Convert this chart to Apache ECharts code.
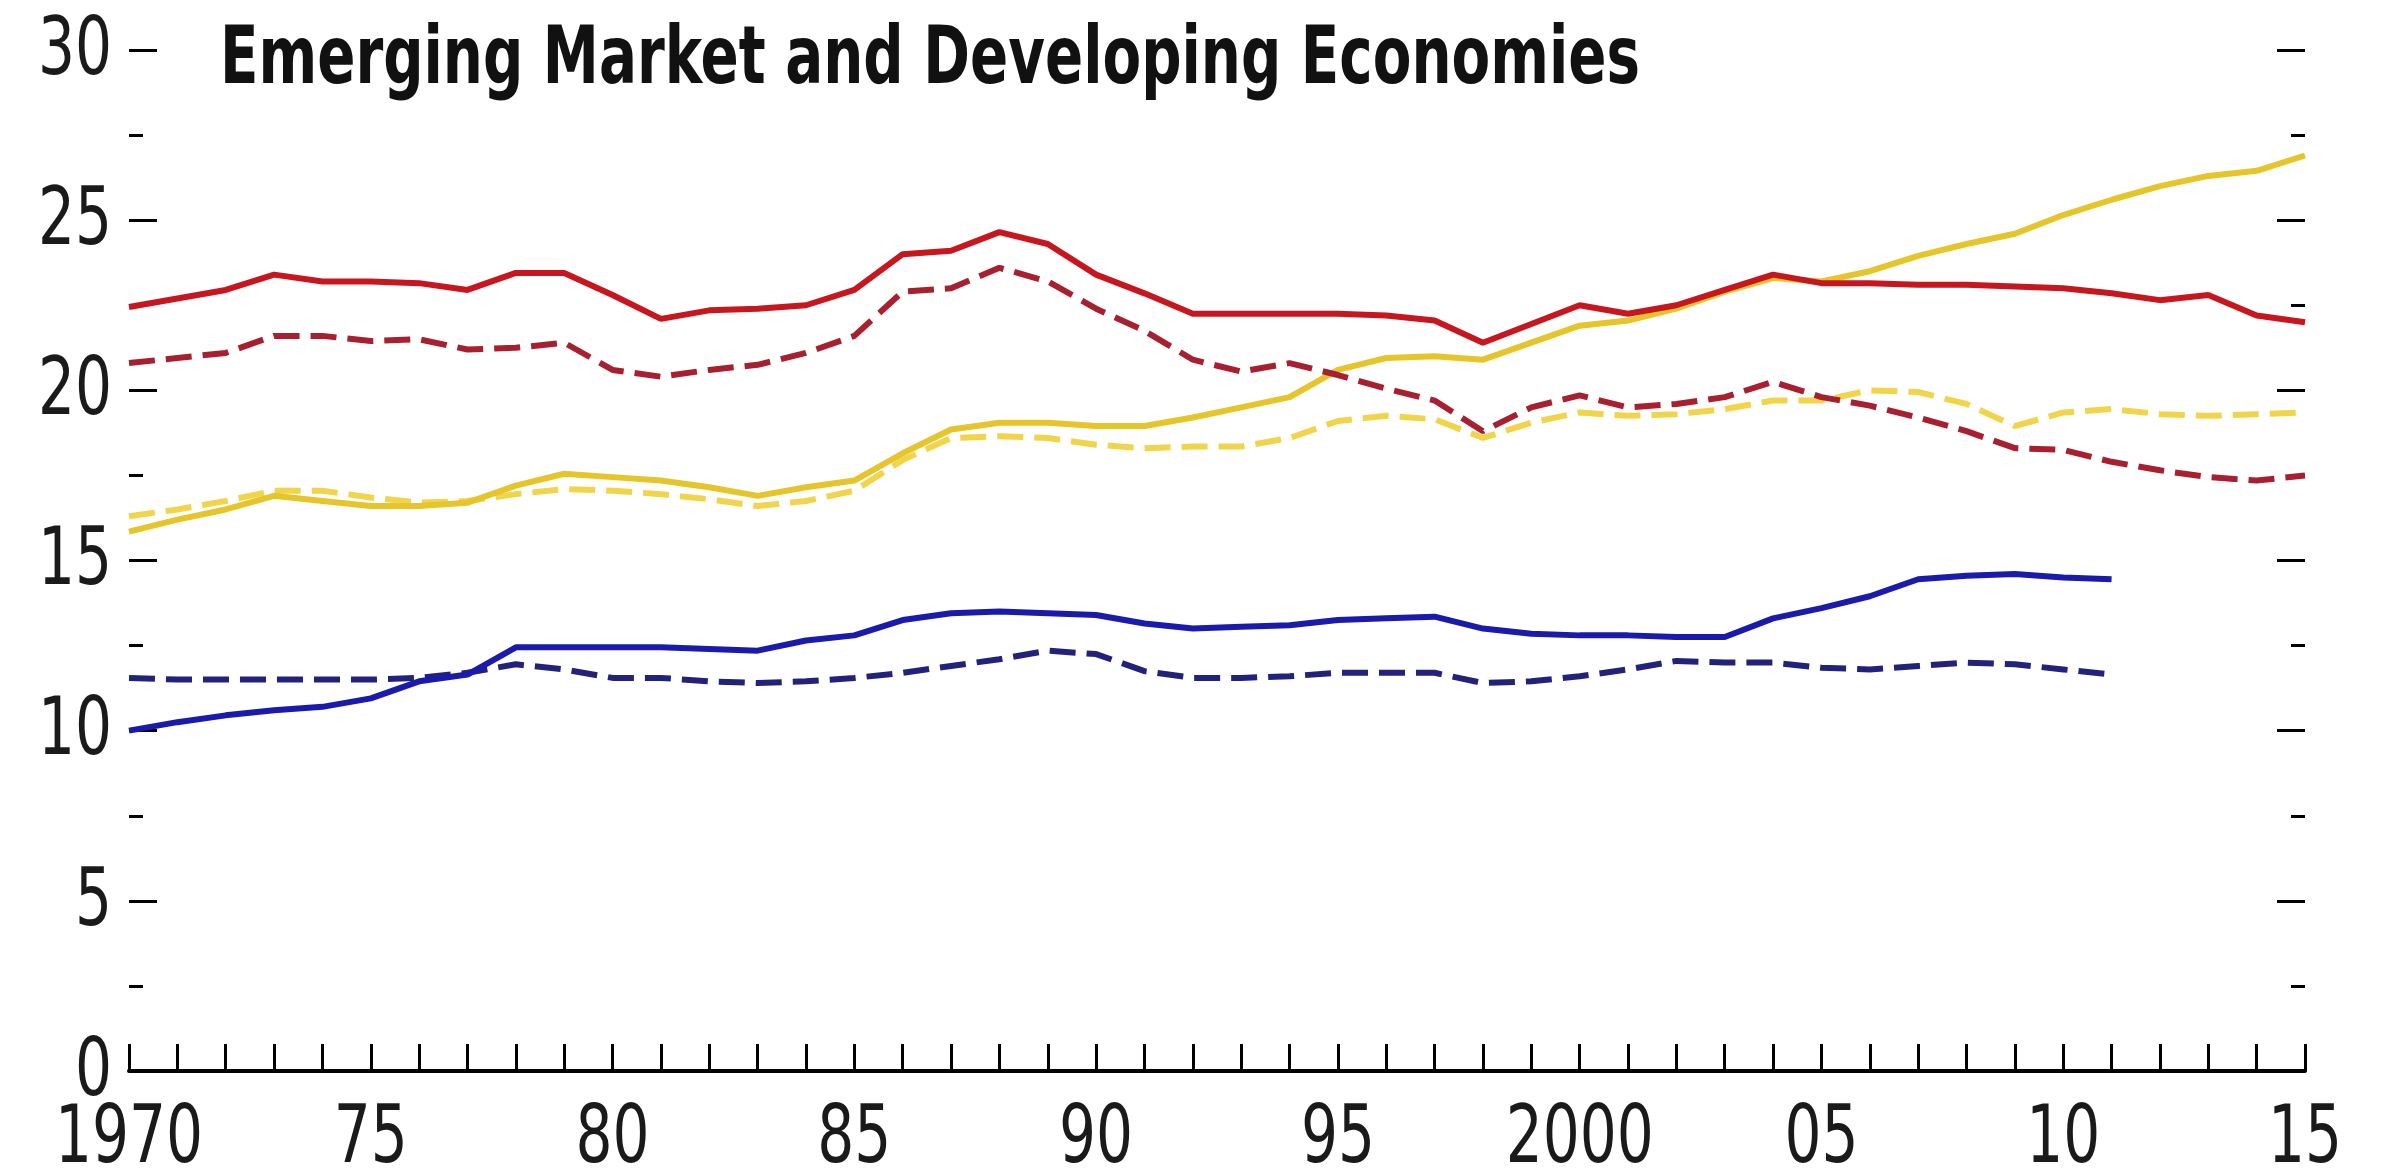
<!DOCTYPE html>
<html>
<head>
<meta charset="utf-8">
<script src="https://cdn.jsdelivr.net/npm/echarts@6/dist/echarts.min.js"></script>
<style>
  html, body { margin: 0; padding: 0; background: #fff; }
  #main { width: 2398px; height: 1172px; }
</style>
</head>
<body>
<div id="main"></div>
<script>
var years = [];
for (var y = 1970; y <= 2015; y++) years.push(y);

var titleText = 'Emerging Market and Developing Economies';
var xTickYears = [1970, 1975, 1980, 1985, 1990, 1995, 2000, 2005, 2010, 2015];
var xTickLabels = ['1970', '75', '80', '85', '90', '95', '2000', '05', '10', '15'];
var yTickValues = [0, 5, 10, 15, 20, 25, 30];

// solid lines
var redSolid = [22.45, 22.7, 22.95, 23.4, 23.2, 23.2, 23.15, 22.95, 23.45, 23.45,
    22.8, 22.1, 22.35, 22.4, 22.5, 22.95, 24.0, 24.1, 24.65, 24.3,
    23.4, 22.85, 22.25, 22.25, 22.25, 22.25, 22.2, 22.05, 21.4, 21.95,
    22.5, 22.25, 22.5, 22.95, 23.4, 23.15, 23.15, 23.1, 23.1, 23.05,
    23.0, 22.85, 22.65, 22.8, 22.2, 22.0];
var yellowSolid = [15.85, 16.2, 16.5, 16.9, 16.75, 16.6, 16.6, 16.7, 17.2, 17.55,
    17.45, 17.35, 17.15, 16.9, 17.15, 17.35, 18.15, 18.85, 19.05, 19.05,
    18.95, 18.95, 19.2, 19.5, 19.8, 20.6, 20.95, 21.0, 20.9, 21.4,
    21.9, 22.05, 22.4, 22.9, 23.3, 23.2, 23.5, 23.95, 24.3, 24.6,
    25.15, 25.6, 26.0, 26.3, 26.45, 26.9];
var blueSolid = [10.0, 10.25, 10.45, 10.6, 10.7, 10.95, 11.45, 11.65, 12.45, 12.45,
    12.45, 12.45, 12.4, 12.35, 12.65, 12.8, 13.25, 13.45, 13.5, 13.45,
    13.4, 13.15, 13.0, 13.05, 13.1, 13.25, 13.3, 13.35, 13.0, 12.85,
    12.8, 12.8, 12.75, 12.75, 13.3, 13.6, 13.95, 14.45, 14.55, 14.6,
    14.5, 14.45, null, null, null, null];

// dashed lines
var redDashed = [20.8, 20.95, 21.1, 21.6, 21.6, 21.45, 21.5, 21.2, 21.25, 21.4,
    20.6, 20.4, 20.6, 20.75, 21.1, 21.6, 22.9, 23.0, 23.6, 23.2,
    22.4, 21.75, 20.9, 20.55, 20.8, 20.45, 20.05, 19.7, 18.8, 19.5,
    19.85, 19.5, 19.6, 19.8, 20.25, 19.8, 19.55, 19.2, 18.8, 18.3,
    18.25, 17.9, 17.65, 17.45, 17.35, 17.5];
var yellowDashed = [16.3, 16.5, 16.75, 17.05, 17.05, 16.85, 16.7, 16.75, 16.95, 17.1,
    17.05, 16.95, 16.8, 16.6, 16.75, 17.05, 17.95, 18.6, 18.65, 18.6,
    18.4, 18.3, 18.35, 18.35, 18.6, 19.1, 19.25, 19.15, 18.6, 19.05,
    19.35, 19.25, 19.3, 19.45, 19.7, 19.7, 20.0, 19.95, 19.6, 18.95,
    19.35, 19.45, 19.3, 19.25, 19.3, 19.35];
var blueDashed = [11.55, 11.5, 11.5, 11.5, 11.5, 11.5, 11.55, 11.7, 11.95, 11.8,
    11.55, 11.55, 11.45, 11.4, 11.45, 11.55, 11.7, 11.9, 12.1, 12.35,
    12.25, 11.75, 11.55, 11.55, 11.6, 11.7, 11.7, 11.7, 11.4, 11.45,
    11.6, 11.8, 12.05, 12.0, 12.0, 11.85, 11.8, 11.9, 12.0, 11.95,
    11.8, 11.65, null, null, null, null];

var cond = "'DejaVu Sans Condensed', 'Liberation Sans', sans-serif";

// squeeze the text horizontally, the original uses a narrow face
var ctx = document.createElement('canvas').getContext('2d');
ctx.font = '80px ' + cond;
var labelScale = 148 / ctx.measureText('1970').width;
ctx.font = 'bold 80px ' + cond;
var titleScale = 1420 / ctx.measureText(titleText).width;

var myChart = echarts.init(document.getElementById('main'));

function line(data, color, dashed) {
    return {
        type: 'line',
        data: data,
        symbol: 'none',
        connectNulls: false,
        lineStyle: { color: color, width: 6, type: dashed ? [26, 11] : 'solid' },
        silent: true
    };
}

var tickStyle = { color: '#000', width: 3 };

option = {
    animation: false,
    backgroundColor: '#fff',
    grid: { left: 129, right: 93, top: 50, bottom: 101 },
    xAxis: {
        type: 'category',
        data: years,
        boundaryGap: false,
        axisLine: { lineStyle: { color: '#000', width: 4 } },
        axisTick: { inside: true, length: 27, interval: 0, lineStyle: tickStyle },
        axisLabel: { show: false },
        splitLine: { show: false }
    },
    yAxis: [
        {
            type: 'value',
            min: 0, max: 30, interval: 5,
            axisLine: { show: false },
            axisTick: { show: true, inside: true, length: 28, lineStyle: tickStyle },
            minorTick: { show: true, splitNumber: 2, length: 14, lineStyle: tickStyle },
            axisLabel: { show: false },
            splitLine: { show: false }
        },
        {
            type: 'value',
            position: 'right',
            min: 0, max: 30, interval: 5,
            axisLine: { show: false },
            axisTick: { show: true, inside: true, length: 28, lineStyle: tickStyle },
            minorTick: { show: true, splitNumber: 2, length: 14, lineStyle: tickStyle },
            axisLabel: { show: false },
            splitLine: { show: false }
        }
    ],
    series: [
        line(yellowDashed, '#f2d44a', true),
        line(yellowSolid, '#e6c52a', false),
        line(redDashed, '#a81f30', true),
        line(redSolid, '#c8161f', false),
        line(blueDashed, '#22227c', true),
        line(blueSolid, '#1a1aac', false)
    ]
};

myChart.setOption(option);

// tick labels and title as squeezed text, placed with the chart's own scales
var graphics = [];
graphics.push({
    type: 'text', x: 220, y: 62, scaleX: titleScale,
    style: { text: titleText, font: 'bold 80px ' + cond, fill: '#111', textAlign: 'left', textVerticalAlign: 'middle' }
});
xTickYears.forEach(function (yr, i) {
    var px = myChart.convertToPixel({ xAxisIndex: 0 }, String(yr));
    graphics.push({
        type: 'text', x: px, y: 1141, scaleX: labelScale,
        style: { text: xTickLabels[i], font: '80px ' + cond, fill: '#1a1a1a', textAlign: 'center', textVerticalAlign: 'middle' }
    });
});
yTickValues.forEach(function (v) {
    var py = myChart.convertToPixel({ yAxisIndex: 0 }, v);
    graphics.push({
        type: 'text', x: 112, y: py + 3, scaleX: labelScale,
        style: { text: String(v), font: '80px ' + cond, fill: '#1a1a1a', textAlign: 'right', textVerticalAlign: 'middle' }
    });
});
myChart.setOption({ graphic: graphics });
</script>
</body>
</html>
